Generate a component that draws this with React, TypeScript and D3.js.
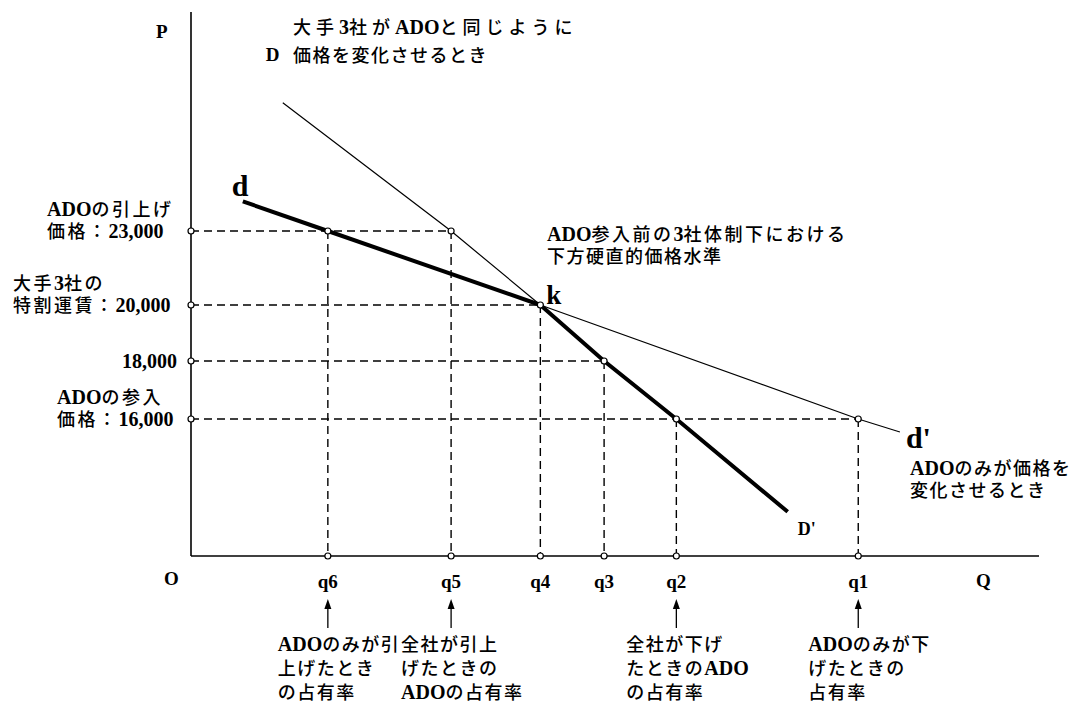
import React from "react";
import * as d3 from "d3";

// ---- data ----
const priceTicks = [16000, 18000, 20000, 23000];
const priceLabelLines: string[][] = [
  ["ADOの参入", "価格：16,000"],
  ["18,000"],
  ["大手3社の", "特割運賃：20,000"],
  ["ADOの引上げ", "価格：23,000"],
];
const qNames = ["q6", "q5", "q4", "q3", "q2", "q1"];
const qValues = [16.1, 30.6, 41.1, 48.6, 57.1, 78.5];
const qPrices = [23000, 23000, 20000, 18000, 16000, 16000];
// horizontal dashed guides: price -> quantity reached
const hGuidePrices = [23000, 20000, 18000, 16000];
const hGuideQ = [30.6, 41.1, 48.6, 78.5];
// all-firms demand curve D–D'
const bigDQ = [10.8, 30.6, 41.1, 48.6, 57.1, 70.2];
const bigDP = [28200, 23000, 20000, 18000, 16000, 12800];
// ADO-only demand curve d–d'
const smallDQ = [6.1, 16.1, 41.1, 78.5, 83.4];
const smallDP = [24200, 23000, 20000, 16000, 15550];
const kQ = 41.1;
const kP = 20000;
const arrowQ = [16.1, 30.6, 57.1, 78.5];
const arrowLabels: string[][] = [
  ["ADOのみが引", "上げたとき", "の占有率"],
  ["全社が引上", "げたときの", "ADOの占有率"],
  ["全社が下げ", "たときのADO", "の占有率"],
  ["ADOのみが下", "げたときの", "占有率"],
];
const topNote = ["大手3社がADOと同じように", "価格を変化させるとき"];
const kNote = ["ADO参入前の3社体制下における", "下方硬直的価格水準"];
const dNote = ["ADOのみが価格を", "変化させるとき"];

const W = 1086;
const H = 707;
const LATIN = "'Liberation Serif', 'Times New Roman', serif";
const CJK = "'Noto Sans CJK JP', 'Noto Sans CJK SC', sans-serif";
const AXIS_X = 191;
const AXIS_Y = 556;

function splitRuns(s: string): { latin: boolean; t: string }[] {
  const out: { latin: boolean; t: string }[] = [];
  for (const ch of s) {
    const latin = ch.charCodeAt(0) < 0x2000;
    const last = out[out.length - 1];
    if (last && last.latin === latin) last.t += ch;
    else out.push({ latin, t: ch });
  }
  return out;
}

// one <text> holding several lines; Latin runs in bold serif, Japanese in Noto Sans CJK
function MText(props: {
  x: number;
  y: number;
  lines: string[];
  lineHeight?: number;
  spacing?: number[];
}) {
  const { x, y, lines, lineHeight = 22, spacing = [] } = props;
  return (
    <text x={x} y={y}>
      {lines.map((line, li) =>
        splitRuns(line).map((r, i) => {
          const pos = i === 0 ? { x, y: y + li * lineHeight } : {};
          return r.latin ? (
            <tspan key={li + "-" + i} {...pos} fontFamily={LATIN} fontWeight="bold" fontSize={20}>
              {r.t}
            </tspan>
          ) : (
            <tspan
              key={li + "-" + i}
              {...pos}
              fontFamily={CJK}
              fontWeight={500}
              fontSize={18}
              letterSpacing={spacing[li] ?? 1.5}
            >
              {r.t}
            </tspan>
          );
        })
      )}
    </text>
  );
}

export default function App() {
  const x = d3.scaleLinear().domain([0, 100]).range([AXIS_X, AXIS_X + 850]);
  const y = d3.scaleLinear().domain(priceTicks).range([419, 361, 305, 231]);

  const line = d3
    .line<[number, number]>()
    .x((d) => x(d[0]))
    .y((d) => y(d[1]));

  const bigD: [number, number][] = bigDQ.map((q, i) => [q, bigDP[i]]);
  const smallD: [number, number][] = smallDQ.map((q, i) => [q, smallDP[i]]);
  const kIdxBig = bigDQ.indexOf(kQ);
  const kIdxSmall = smallDQ.indexOf(kQ);

  const circles: [number, number][] = [];
  hGuidePrices.forEach((p) => circles.push([AXIS_X, y(p)]));
  qValues.forEach((q, i) => {
    circles.push([x(q), y(qPrices[i])]);
    circles.push([x(q), AXIS_Y]);
  });

  // left-edge x for each price label block (left-aligned blocks)
  const labelLeft = [57, 122, 13, 47];

  return (
    <svg
      width={W}
      height={H}
      style={{ position: "absolute", left: 0, top: 0, background: "#fff" }}
      fontFamily={LATIN}
    >
      <rect width={W} height={H} fill="#fff" />
      {/* axes */}
      <line x1={AXIS_X} y1={12} x2={AXIS_X} y2={AXIS_Y} stroke="#000" strokeWidth={1.6} />
      <line x1={AXIS_X} y1={AXIS_Y} x2={1039} y2={AXIS_Y} stroke="#000" strokeWidth={1.6} />
      <text x={156} y={38} fontSize={19} fontWeight="bold">P</text>
      <text x={164} y={585} fontSize={19} fontWeight="bold">O</text>
      <text x={976} y={587} fontSize={19} fontWeight="bold">Q</text>

      {/* dashed guides */}
      {hGuidePrices.map((p, i) => (
        <line
          key={"h" + i}
          x1={AXIS_X}
          x2={x(hGuideQ[i])}
          y1={y(p)}
          y2={y(p)}
          stroke="#000"
          strokeWidth={1.4}
          strokeDasharray="8,5"
        />
      ))}
      {qValues.map((q, i) => (
        <line
          key={"v" + i}
          x1={x(q)}
          x2={x(q)}
          y1={y(qPrices[i])}
          y2={AXIS_Y}
          stroke="#000"
          strokeWidth={1.4}
          strokeDasharray="8,5"
        />
      ))}

      {/* demand curves */}
      <path d={line(bigD.slice(0, kIdxBig + 1)) || ""} fill="none" stroke="#000" strokeWidth={1.2} />
      <path d={line(bigD.slice(kIdxBig)) || ""} fill="none" stroke="#000" strokeWidth={4} />
      <path d={line(smallD.slice(0, kIdxSmall + 1)) || ""} fill="none" stroke="#000" strokeWidth={4} />
      <path d={line(smallD.slice(kIdxSmall)) || ""} fill="none" stroke="#000" strokeWidth={1.2} />

      {/* circles */}
      {circles.map((c, i) => (
        <circle key={"c" + i} cx={c[0]} cy={c[1]} r={3} fill="#fff" stroke="#000" strokeWidth={1.2} />
      ))}

      {/* curve labels */}
      <text x={x(bigDQ[0]) - 17} y={61} fontSize={19} fontWeight="bold">D</text>
      <text x={x(bigDQ[bigDQ.length - 1]) + 10} y={535} fontSize={18} fontWeight="bold">D'</text>
      <text x={x(smallDQ[0]) - 11} y={196} fontSize={30} fontWeight="bold">d</text>
      <text x={x(smallDQ[smallDQ.length - 1]) + 6} y={448} fontSize={30} fontWeight="bold">d'</text>
      <text x={x(kQ) + 6} y={304} fontSize={27} fontWeight="bold">k</text>

      {/* annotation texts */}
      <MText x={293} y={34} lines={topNote} lineHeight={28} spacing={[5, 1.5]} />
      <MText x={547} y={241} lines={kNote} lineHeight={22} spacing={[2.5, 1.5]} />
      <MText x={910} y={475} lines={dNote} lineHeight={22} />

      {/* price labels */}
      {priceTicks.map((p, i) => {
        const lines = priceLabelLines[i];
        return (
          <MText
            key={"p" + i}
            x={labelLeft[i]}
            y={y(p) + 7 - (lines.length - 1) * 22}
            lines={lines}
            lineHeight={22}
            spacing={[2.5, 2.5]}
          />
        );
      })}

      {/* q labels */}
      {qValues.map((q, i) => (
        <text key={"q" + i} x={x(q)} y={588} fontSize={19} fontWeight="bold" textAnchor="middle">
          {qNames[i]}
        </text>
      ))}

      {/* arrows and share labels */}
      {arrowQ.map((q, i) => (
        <g key={"a" + i}>
          <line x1={x(q)} x2={x(q)} y1={604} y2={628} stroke="#000" strokeWidth={1.3} />
          <path d={`M${x(q)},${599} L${x(q) - 3.5},${609} L${x(q) + 3.5},${609} Z`} fill="#000" />
          <MText x={x(q) - 50} y={651} lines={arrowLabels[i]} lineHeight={24} />
        </g>
      ))}
    </svg>
  );
}
